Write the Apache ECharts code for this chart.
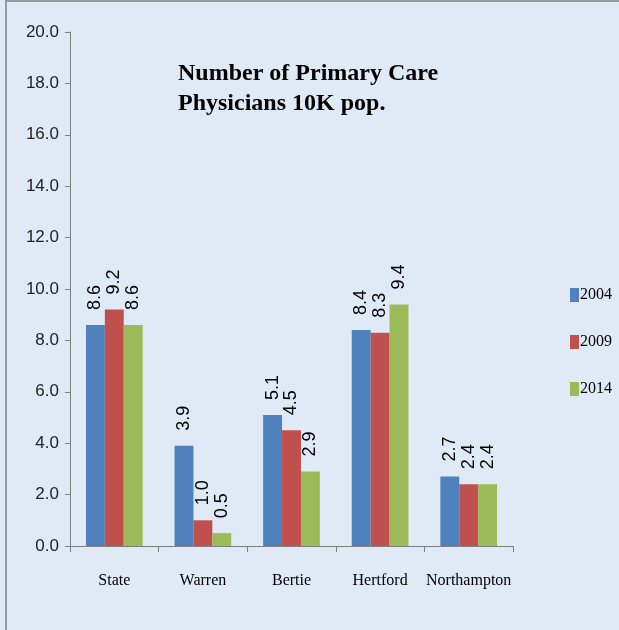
<!DOCTYPE html>
<html>
<head>
<meta charset="utf-8">
<script src="https://cdn.jsdelivr.net/npm/echarts@6/dist/echarts.min.js"></script>
<style>
  html, body { margin: 0; padding: 0; background: #dfeaf6; }
  #chart { height: 630px; box-sizing: border-box; border-left: 2px solid #9a9a9a; border-top: 2px solid #9a9a9a; margin-left: 5px; width: 614px; }
</style>
</head>
<body>
<div id="chart"></div>
<script>
// data
const regions = ['State', 'Warren', 'Bertie', 'Hertford', 'Northampton'];
const years = ['2004', '2009', '2014'];
const v2004 = [8.6, 3.9, 5.1, 8.4, 2.7];
const v2009 = [9.2, 1.0, 4.5, 8.3, 2.4];
const v2014 = [8.6, 0.5, 2.9, 9.4, 2.4];
const yTicks = [0, 20, 2];

const colors = ['#4f81bd', '#c0504d', '#9bbb59'];
const serif = '"Liberation Serif", "Times New Roman", serif';

const chart = echarts.init(document.getElementById('chart'));

function makeSeries(name, values, i) {
    return {
        name: name,
        type: 'bar',
        data: values,
        barGap: '0%',
        barCategoryGap: '36%',
        itemStyle: { color: colors[i] },
        label: {
            show: true,
            position: 'top',
            rotate: 90,
            distance: 15,
            align: 'left',
            verticalAlign: 'middle',
            color: '#000',
            fontSize: 18,
            fontFamily: '"Liberation Sans", Arial, sans-serif',
            formatter: p => p.value.toFixed(1)
        }
    };
}

chart.setOption({
    backgroundColor: '#dfeaf6',
    animation: false,
    title: {
        text: 'Number of Primary Care\nPhysicians 10K pop.',
        left: 166,
        top: 52,
        textStyle: { fontFamily: serif, fontWeight: 'bold', fontSize: 24, lineHeight: 30, color: '#000' }
    },
    legend: {
        orient: 'vertical',
        left: 558,
        top: 280,
        itemWidth: 9,
        itemHeight: 14,
        itemGap: 31,
        icon: 'rect',
        textStyle: { fontFamily: serif, fontSize: 16, color: '#000', padding: [0, 0, 0, -4] },
        data: years
    },
    grid: { left: 63, right: 106, top: 30, bottom: 84 },
    xAxis: {
        type: 'category',
        data: regions,
        axisLine: { lineStyle: { color: '#7f7f7f' } },
        axisTick: { show: true, length: 6, lineStyle: { color: '#7f7f7f' } },
        axisLabel: { interval: 0, margin: 27, color: '#000', fontFamily: serif, fontSize: 16 }
    },
    yAxis: {
        type: 'value',
        min: yTicks[0],
        max: yTicks[1],
        interval: yTicks[2],
        splitLine: { show: false },
        axisLine: { show: true, lineStyle: { color: '#7f7f7f' } },
        axisTick: { show: true, length: 5, lineStyle: { color: '#7f7f7f' } },
        axisLabel: {
            margin: 11,
            color: '#222',
            fontFamily: '"Liberation Sans", Arial, sans-serif',
            fontSize: 17,
            formatter: v => v.toFixed(1)
        }
    },
    series: [
        makeSeries(years[0], v2004, 0),
        makeSeries(years[1], v2009, 1),
        makeSeries(years[2], v2014, 2)
    ]
});
</script>
</body>
</html>
